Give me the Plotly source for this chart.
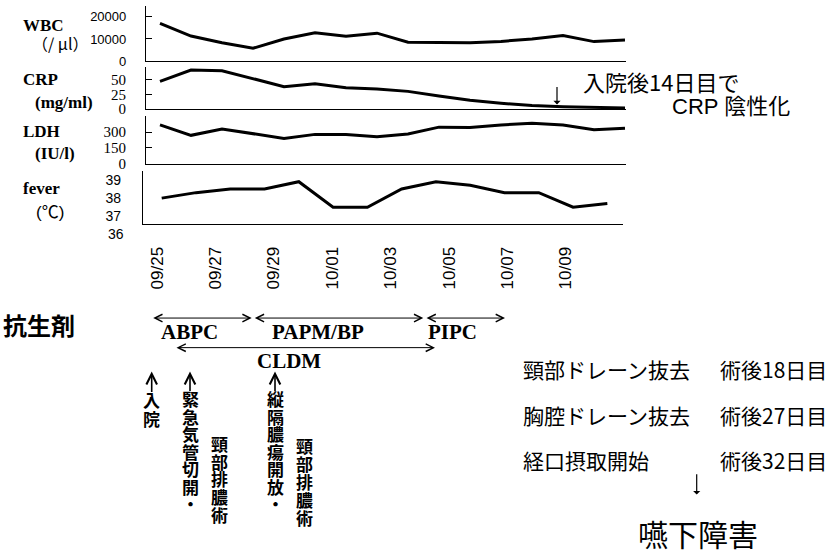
import plotly.graph_objects as go

W, H = 834, 556

# ---------------- data ----------------
lab_days = list(range(16))
wbc = [17000, 11300, 8300, 5800, 10000, 12800, 11200, 12600, 8500, 8400, 8300, 8900, 10000, 11500, 8800, 9500]
crp = [47, 66, 65, 51, 38, 43, 36, 34, 30, 22, 15, 10, 6, 4, 3, 2]
ldh = [368, 269, 330, 285, 240, 278, 278, 256, 281, 347, 344, 368, 384, 368, 322, 337]
fever_days = list(range(14))
fever = [38.0, 38.3, 38.5, 38.5, 38.9, 37.5, 37.5, 38.5, 38.9, 38.7, 38.3, 38.3, 37.5, 37.7]

date_days = [0, 2, 4, 6, 8, 10, 12, 14]
date_labels = ["09/25", "09/27", "09/29", "10/01", "10/03", "10/05", "10/07", "10/09"]

wbc_ticks = [0, 10000, 20000]
crp_ticks = [0, 25, 50]
ldh_ticks = [0, 150, 300]
fever_ticks = [37, 38, 39]


def px(x):
    return x / W


def py(y):
    return 1 - y / H


SERIF = "Liberation Serif, Noto Sans CJK JP"
SANS = "Liberation Sans, Noto Sans CJK JP"
CJK = "Noto Sans CJK JP"

fig = go.Figure()
line = dict(color="black", width=3)
fig.add_trace(go.Scatter(x=lab_days, y=wbc, mode="lines", line=line, xaxis="x", yaxis="y", hoverinfo="skip"))
fig.add_trace(go.Scatter(x=lab_days, y=crp, mode="lines", line=line, xaxis="x2", yaxis="y2", hoverinfo="skip"))
fig.add_trace(go.Scatter(x=lab_days, y=ldh, mode="lines", line=line, xaxis="x3", yaxis="y3", hoverinfo="skip"))
fig.add_trace(go.Scatter(x=fever_days, y=fever, mode="lines", line=line, xaxis="x4", yaxis="y4", hoverinfo="skip"))
fig.add_trace(go.Scatter(x=date_days, y=[0] * len(date_days), mode="markers", marker=dict(opacity=0),
                         xaxis="x5", yaxis="y5", hoverinfo="skip"))

lab_xrange = [(146 - 160) / 31, (626 - 160) / 31]
xcommon = dict(showline=True, linecolor="black", linewidth=1.2, ticks="", showticklabels=False,
               showgrid=False, zeroline=False)
ycommon = dict(showline=True, linecolor="black", linewidth=1.2, ticks="inside", ticklen=6, tickwidth=1,
               tickcolor="black", showgrid=False, zeroline=False, ticklabelstandoff=16)

fig.update_layout(
    width=W, height=H, margin=dict(l=0, r=0, t=0, b=0),
    paper_bgcolor="white", plot_bgcolor="white", showlegend=False,
    xaxis=dict(domain=[px(146), px(626)], range=lab_xrange, anchor="y", **xcommon),
    yaxis=dict(domain=[py(62), py(6)], range=[0, 24900], anchor="x", tickvals=wbc_ticks, tickformat="d",
               tickfont=dict(family="Liberation Sans", size=13, color="black"), **ycommon),
    xaxis2=dict(domain=[px(146), px(626)], range=lab_xrange, anchor="y2", **xcommon),
    yaxis2=dict(domain=[py(110.7), py(68)], range=[0, 71.2], anchor="x2", tickvals=crp_ticks,
                tickfont=dict(family="Liberation Serif", size=15, color="black"), **ycommon),
    xaxis3=dict(domain=[px(146), px(626)], range=lab_xrange, anchor="y3", **xcommon),
    yaxis3=dict(domain=[py(166), py(118)], range=[0, 450], anchor="x3", tickvals=ldh_ticks,
                tickfont=dict(family="Liberation Serif", size=15, color="black"), **ycommon),
    xaxis4=dict(domain=[px(143), px(623)], range=[(143 - 161.7) / 34.28, (623 - 161.7) / 34.28],
                anchor="y4", **xcommon),
    yaxis4=dict(domain=[py(227.3), py(173)], range=[36.578, 39.514], anchor="x4", tickvals=fever_ticks,
                showline=True, linecolor="black", linewidth=1.2, ticks="", showgrid=False, zeroline=False,
                ticklabelstandoff=18, tickfont=dict(family="Liberation Sans", size=14, color="black")),
    xaxis5=dict(domain=[px(146), px(626)], range=[(146 - 157) / 29.2, (626 - 157) / 29.2], anchor="y5",
                tickvals=date_days, ticktext=date_labels, tickangle=-90, ticks="", showline=False,
                showgrid=False, zeroline=False, tickfont=dict(family="Liberation Sans", size=17, color="black")),
    yaxis5=dict(domain=[py(246), py(244)], visible=False, anchor="x5"),
)

ann = []


def text(t, x, y, size, family, xanchor="left", color="black"):
    ann.append(dict(text=t, x=px(x), y=py(y), xref="paper", yref="paper", showarrow=False,
                    xanchor=xanchor, yanchor="middle", font=dict(family=family, size=size, color=color)))


def arrow(x1, y1, x0, y0, both=False, head=5, size=1.5, width=1.0):
    # head at (x1, y1), tail at (x0, y0) in pixel coordinates
    d = dict(text="", x=px(x1), y=py(y1), xref="paper", yref="paper", showarrow=True,
             ax=x0 - x1, ay=y0 - y1, arrowhead=head, arrowsize=size, arrowwidth=width,
             arrowcolor="black", standoff=0, startstandoff=0)
    if both:
        d.update(arrowside="end+start", startarrowhead=head, startarrowsize=size)
    ann.append(d)


def vtext(chars, x, y0, pitch, size):
    # one text per column; line pitch from base font, glyph size from inner span
    base = pitch / 1.3
    t = "<br>".join("<span style='font-size:%dpx'><b>%s</b></span>" % (size, c) for c in chars)
    yc = y0 + (len(chars) - 1) * pitch / 2
    ann.append(dict(text=t, x=px(x), y=py(yc), xref="paper", yref="paper", showarrow=False,
                    xanchor="center", yanchor="middle", align="center",
                    font=dict(family=CJK, size=base, color="black")))


# left labels
text("<b>WBC</b>", 21, 25.5, 17, SERIF)
text("（/ μl）", 30, 43.5, 16, CJK)
text("<b>CRP</b>", 21, 81, 17, SERIF)
text("<b>(mg/ml)</b>", 33, 103.5, 17, SERIF)
text("<b>LDH</b>", 21, 133.5, 17, SERIF)
text("<b>(IU/l)</b>", 33, 155.5, 17, SERIF)
text("<b>fever</b>", 21, 191, 17, SERIF)
text("(℃)", 34, 216, 17, SANS)
text("36", 126, 237.7, 14, "Liberation Sans", xanchor="right")

# CRP note
text("入院後14日目で", 581, 82.5, 22, CJK)
text("CRP 陰性化", 670, 108.5, 22, SANS)
arrow(557, 106, 557, 87, head=1, size=1.0, width=1.2)

# antibiotics
text("<b>抗生剤</b>", 1, 329, 24, CJK)
arrow(251.7, 322.7, 151.7, 322.7, both=True)
arrow(423.3, 322.7, 253.3, 322.7, both=True)
arrow(505, 322.7, 425, 322.7, both=True)
arrow(435, 352.7, 175, 352.7, both=True)
text("<b>ABPC</b>", 189, 336.7, 21, SERIF, xanchor="center")
text("<b>PAPM/BP</b>", 317.5, 336.7, 21, SERIF, xanchor="center")
text("<b>PIPC</b>", 452.5, 336.7, 21, SERIF, xanchor="center")
text("<b>CLDM</b>", 289, 366, 21, SERIF, xanchor="center")

# events
arrow(151.7, 377, 151.7, 399, size=1.3, width=1.6)
vtext("入院", 151.7, 406, 18.5, 17)
arrow(190, 377, 190, 398, size=1.3, width=1.6)
vtext("緊急気管切開・", 190, 405, 17.5, 17)
vtext("頸部排膿術", 219.2, 450.7, 17.7, 17)
arrow(275, 377, 275, 398, size=1.3, width=1.6)
vtext("縦隔膿瘍開放・", 275, 405, 17.5, 17)
vtext("頸部排膿術", 304, 452.5, 18, 17)

# right side
text("頸部ドレーン抜去", 521, 374, 21, CJK)
text("術後18日目", 718, 374, 21, CJK)
text("胸腔ドレーン抜去", 521, 421, 21, CJK)
text("術後27日目", 718, 421, 21, CJK)
text("経口摂取開始", 521, 466.5, 21, CJK)
text("術後32日目", 718, 466.5, 21, CJK)
arrow(696.7, 501.7, 696.7, 480, head=1, size=1.0, width=1.2)
text("嚥下障害", 697.5, 540.7, 30, CJK, xanchor="center")

fig.update_layout(annotations=ann)

fig.write_html("out.html", config={"displayModeBar": False},
               post_script="document.body.style.margin='0';")
